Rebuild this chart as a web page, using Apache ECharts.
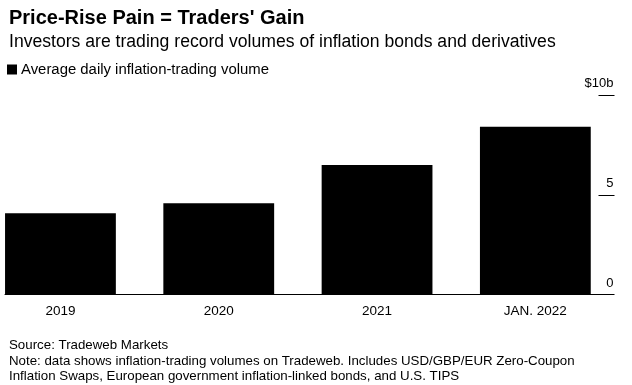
<!DOCTYPE html>
<html>
<head>
<meta charset="utf-8">
<script src="https://cdn.jsdelivr.net/npm/echarts@6/dist/echarts.min.js"></script>
<style>html,body{margin:0;padding:0;background:#fff;overflow:hidden;width:632px;height:385px;position:relative}#c{position:absolute;left:-19px;top:0;width:651px;height:385px}</style>
</head>
<body>
<div id="c"></div>
<script>
const categories = ['2019', '2020', '2021', 'JAN. 2022'];
const volumes = [4.07, 4.57, 6.49, 8.41];
const yTicks = [0, 5, 10];
const yTickLabels = ['0', '5', '$10b'];
const seriesName = 'Average daily inflation-trading volume';

const FONT = '"Liberation Sans", Arial, sans-serif';
const SHIFT = 19; // container is shifted left by this many px
const chart = echarts.init(document.getElementById('c'), null, {renderer: 'canvas'});
chart.setOption({
  animation: false,
  backgroundColor: '#ffffff',
  textStyle: {fontFamily: FONT},
  title: [
    {text: "Price-Rise Pain = Traders' Gain", left: 4 + SHIFT, top: 3,
     textStyle: {fontFamily: FONT, fontSize: 20, fontWeight: 'bold', color: '#000'}},
    {text: 'Investors are trading record volumes of inflation bonds and derivatives', left: 4 + SHIFT, top: 28,
     textStyle: {fontFamily: FONT, fontSize: 17.6, fontWeight: 'normal', color: '#000'}},
    {text: 'Source: Tradeweb Markets\nNote: data shows inflation-trading volumes on Tradeweb. Includes USD/GBP/EUR Zero-Coupon\nInflation Swaps, European government inflation-linked bonds, and U.S. TIPS',
     left: 4 + SHIFT, top: 333,
     textStyle: {fontFamily: FONT, fontSize: 13.3, fontWeight: 'normal', color: '#000', lineHeight: 15.5}}
  ],
  legend: {
    left: 2 + SHIFT, top: 57,
    icon: 'rect', itemWidth: 10, itemHeight: 10, itemGap: 5,
    textStyle: {fontFamily: FONT, fontSize: 14.9, color: '#000', padding: [0, 0, 0, -1]},
    data: [seriesName]
  },
  grid: [
    {left: SHIFT - 18.7, right: 17.5, top: 95, bottom: 90.5, containLabel: false},
    {left: SHIFT + 5, right: 19, top: 95, bottom: 90.5, containLabel: false}
  ],
  xAxis: [
    {type: 'category', gridIndex: 0, data: categories,
     axisLine: {show: false}, axisTick: {show: false},
     axisLabel: {fontFamily: FONT, fontSize: 13.5, color: '#000', margin: 10}},
    {type: 'value', gridIndex: 1, min: 0, max: 1,
     axisLine: {show: true, lineStyle: {color: '#000', width: 1}},
     axisTick: {show: false}, axisLabel: {show: false}, splitLine: {show: false}}
  ],
  yAxis: [
    {type: 'value', gridIndex: 0, position: 'right', min: 0, max: 10, interval: 5,
     axisLine: {show: false},
     axisTick: {show: true, inside: true, length: 16, lineStyle: {color: '#000', width: 1}},
     splitLine: {show: false},
     axisLabel: {inside: true, margin: 1, align: 'right', verticalAlign: 'bottom',
       padding: [0, 0, 5, 0], fontFamily: FONT, fontSize: 13, color: '#000',
       formatter: function (v) { const i = yTicks.indexOf(v); return i >= 0 ? yTickLabels[i] : ''; }}},
    {type: 'value', gridIndex: 1, show: false}
  ],
  series: [{
    name: seriesName, type: 'bar', xAxisIndex: 0, yAxisIndex: 0,
    data: volumes, barCategoryGap: '30%',
    itemStyle: {color: '#000'}
  }]
});
</script>
</body>
</html>
